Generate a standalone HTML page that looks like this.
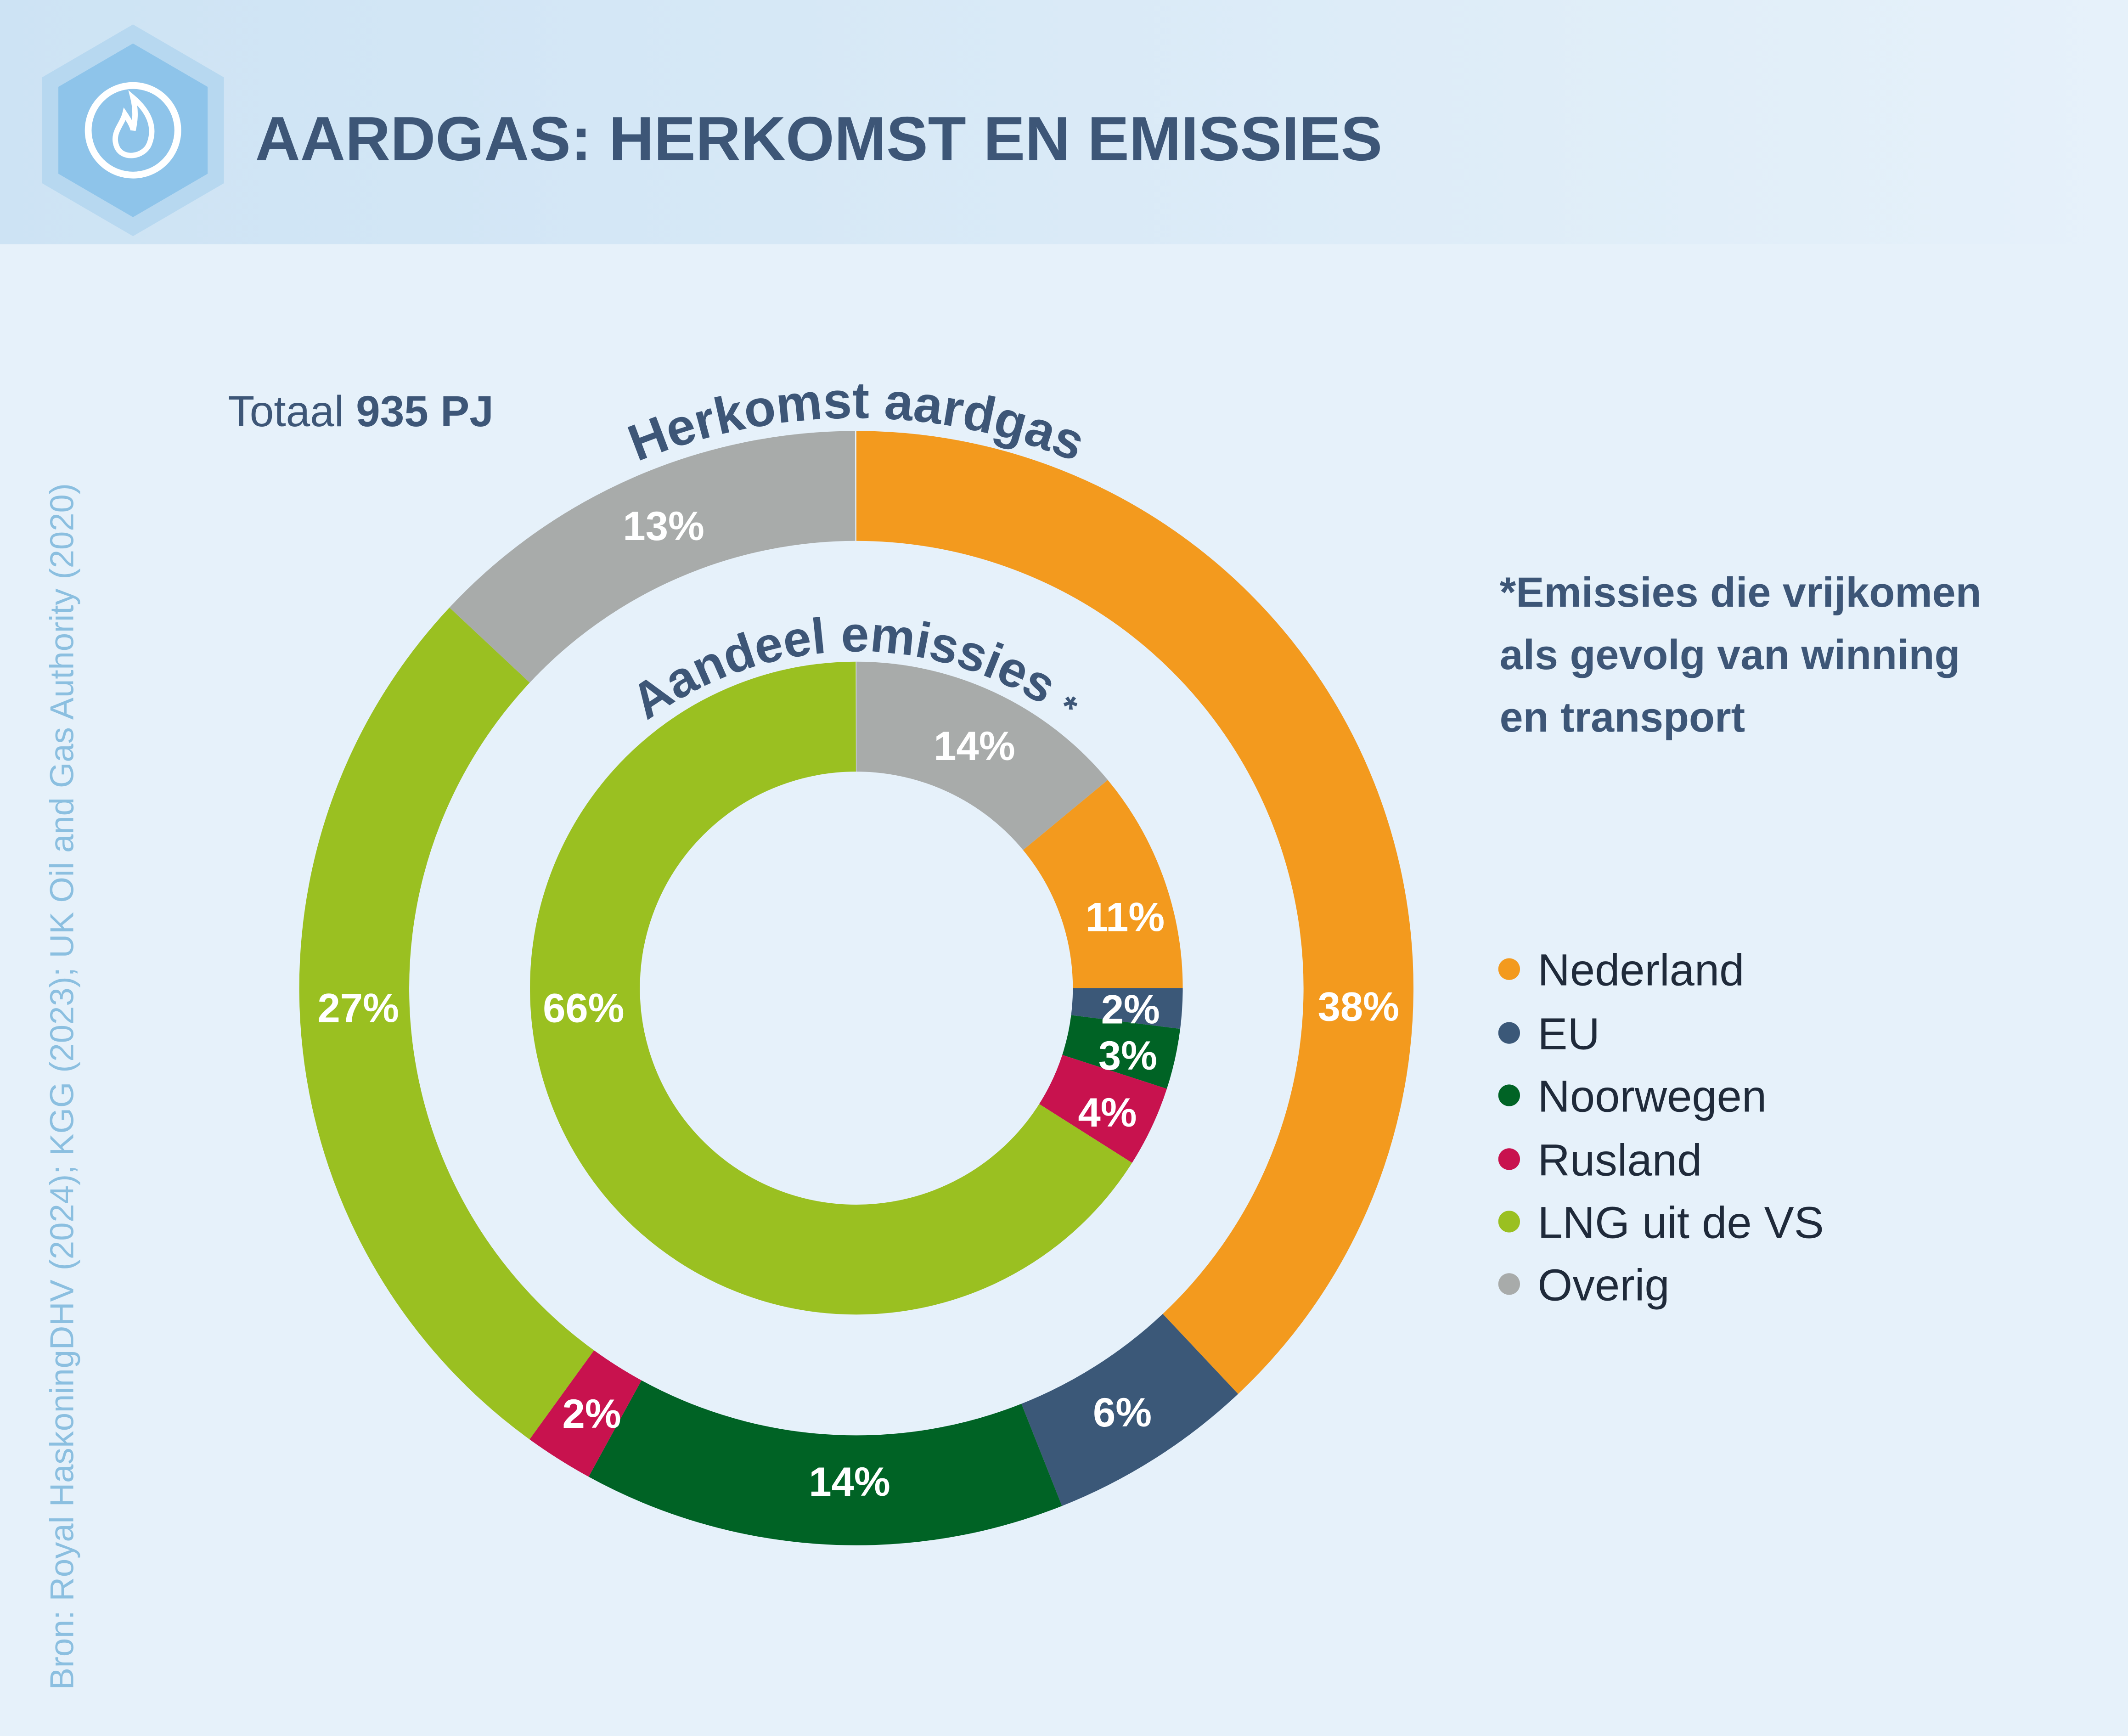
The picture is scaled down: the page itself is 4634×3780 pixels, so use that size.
<!DOCTYPE html>
<html><head><meta charset="utf-8"><style>
html,body{margin:0;padding:0;background:#e6f1fa;}
svg{display:block}
text{font-family:"Liberation Sans",sans-serif}
</style></head><body>
<svg width="4634" height="3780" viewBox="0 0 1568 1279" preserveAspectRatio="none" xmlns="http://www.w3.org/2000/svg">
<defs>
<linearGradient id="hb" x1="0" y1="0" x2="1" y2="0">
<stop offset="0" stop-color="#cde3f4"/><stop offset="1" stop-color="#e6f1fa"/></linearGradient>
<path id="arcOuter" d="M 211,728 A 420,420 0 0 1 1051,728"/>
<path id="arcInner" d="M 373,738 A 258,258 0 0 1 889,738"/>
</defs>
<rect width="1568" height="1279" fill="#e6f1fa"/>
<rect width="1568" height="180" fill="url(#hb)"/>
<polygon points="98,18 165,57 165,135 98,174 31,135 31,57" fill="#b7d8f0"/>
<polygon points="98,32 153,64 153,128 98,160 43,128 43,64" fill="#8ec4ea"/>
<circle cx="98" cy="96" r="33" fill="none" stroke="#fff" stroke-width="5"/>
<path d="M98,72 C112,84 114,96 110,106 C106,116 90,118 86,108 C82,98 90,92 92,84 C96,90 98,94 98,96 C100,88 100,80 98,72Z" fill="none" stroke="#fff" stroke-width="4"/>
<text x="188" y="118" font-size="46" font-weight="bold" fill="#3d5677">AARDGAS: HERKOMST EN EMISSIES</text>
<text transform="translate(54,1245) rotate(-90)" font-size="24.5" fill="#8bbfe0">Bron: Royal HaskoningDHV (2024); KGG (2023); UK Oil and Gas Authority (2020)</text>
<text x="168" y="314" font-size="32" fill="#3d5677">Totaal <tspan font-weight="bold">935 PJ</tspan></text>
<g transform="rotate(-90 631 728)" fill="none">
<circle cx="631" cy="728" r="370" stroke-width="81" stroke="#f39a1e" pathLength="100" stroke-dasharray="38 100" stroke-dashoffset="0"/>
<circle cx="631" cy="728" r="370" stroke-width="81" stroke="#3b5878" pathLength="100" stroke-dasharray="6 100" stroke-dashoffset="-38"/>
<circle cx="631" cy="728" r="370" stroke-width="81" stroke="#006325" pathLength="100" stroke-dasharray="14 100" stroke-dashoffset="-44"/>
<circle cx="631" cy="728" r="370" stroke-width="81" stroke="#c8124e" pathLength="100" stroke-dasharray="2 100" stroke-dashoffset="-58"/>
<circle cx="631" cy="728" r="370" stroke-width="81" stroke="#9ac021" pathLength="100" stroke-dasharray="27 100" stroke-dashoffset="-60"/>
<circle cx="631" cy="728" r="370" stroke-width="81" stroke="#a8abaa" pathLength="100" stroke-dasharray="13 100" stroke-dashoffset="-87"/>
<circle cx="631" cy="728" r="200" stroke-width="81" stroke="#a8abaa" pathLength="100" stroke-dasharray="14 100" stroke-dashoffset="0"/>
<circle cx="631" cy="728" r="200" stroke-width="81" stroke="#f39a1e" pathLength="100" stroke-dasharray="11 100" stroke-dashoffset="-14"/>
<circle cx="631" cy="728" r="200" stroke-width="81" stroke="#3b5878" pathLength="100" stroke-dasharray="2 100" stroke-dashoffset="-25"/>
<circle cx="631" cy="728" r="200" stroke-width="81" stroke="#006325" pathLength="100" stroke-dasharray="3 100" stroke-dashoffset="-27"/>
<circle cx="631" cy="728" r="200" stroke-width="81" stroke="#c8124e" pathLength="100" stroke-dasharray="4 100" stroke-dashoffset="-30"/>
<circle cx="631" cy="728" r="200" stroke-width="81" stroke="#9ac021" pathLength="100" stroke-dasharray="66 100" stroke-dashoffset="-34"/>
</g>
<text font-size="38" font-weight="bold" fill="#3d5677" text-anchor="middle"><textPath href="#arcOuter" startOffset="50%">Herkomst aardgas</textPath></text>
<text font-size="37" font-weight="bold" fill="#3d5677" text-anchor="middle"><textPath href="#arcInner" startOffset="50%">Aandeel emissies <tspan font-size="26">*</tspan></textPath></text>
<g font-size="30" font-weight="bold" fill="#fff" text-anchor="middle">
<text x="489" y="398">13%</text>
<text x="1001" y="752">38%</text>
<text x="827" y="1051">6%</text>
<text x="626" y="1102">14%</text>
<text x="436" y="1052">2%</text>
<text x="264" y="753">27%</text>
<text x="718" y="560">14%</text>
<text x="829" y="686">11%</text>
<text x="833" y="754">2%</text>
<text x="831" y="788">3%</text>
<text x="816" y="830">4%</text>
<text x="430" y="753">66%</text>
</g>
<g font-size="31" font-weight="bold" fill="#3d5677">
<text x="1105" y="447">*Emissies die vrijkomen</text>
<text x="1105" y="493">als gevolg van winning</text>
<text x="1105" y="539">en transport</text>
</g>
<g font-size="33" fill="#1f2a3a">
<circle cx="1112" cy="714" r="8" fill="#f39a1e"/><text x="1133" y="726">Nederland</text>
<circle cx="1112" cy="761" r="8" fill="#3b5878"/><text x="1133" y="773">EU</text>
<circle cx="1112" cy="807" r="8" fill="#006325"/><text x="1133" y="819">Noorwegen</text>
<circle cx="1112" cy="854" r="8" fill="#c8124e"/><text x="1133" y="866">Rusland</text>
<circle cx="1112" cy="900" r="8" fill="#9ac021"/><text x="1133" y="912">LNG uit de VS</text>
<circle cx="1112" cy="946" r="8" fill="#a8abaa"/><text x="1133" y="958">Overig</text>
</g>
</svg>
</body></html>
